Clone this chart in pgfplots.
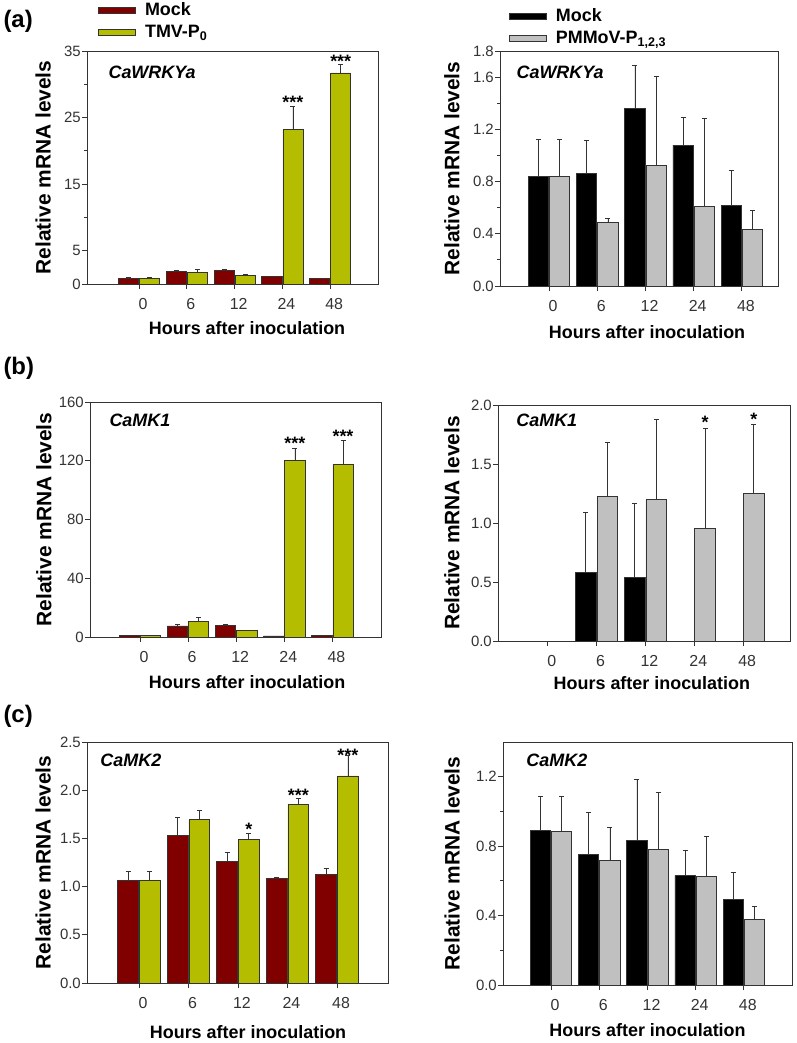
\documentclass[border=0pt]{standalone}
\usepackage{fontspec}
\setmainfont{Liberation Sans}
\usepackage{pgfplots}
\usepackage{pgfplotstable}
\pgfplotsset{compat=1.18}

\definecolor{mockred}{HTML}{800000}
\definecolor{tmvgreen}{HTML}{B5BD00}
\definecolor{pmgray}{HTML}{C0C0C0}
\definecolor{edge}{HTML}{333333}

% columns: x, mock, mock error (upper), infected, infected error (upper)
\pgfplotstableread{
x mock merr inf ierr
0 0.9  0.15 0.9  0.15
1 1.9  0.15 1.8  0.45
2 2.05 0.1  1.35 0.05
3 1.15 0    23.2 3.45
4 0.8  0    31.7 1.3
}\wrkyTMV
\pgfplotstableread{
x mock merr inf ierr
0 0.836 0.284 0.836 0.284
1 0.862 0.256 0.486 0.031
2 1.36  0.328 0.926 0.683
3 1.079 0.213 0.606 0.678
4 0.619 0.268 0.432 0.149
}\wrkyPM
\pgfplotstableread{
x mock merr inf ierr
0 1.0 0    1.0   0
1 7.5 1.1  10.7  2.9
2 7.9 0.95 4.3   0.5
3 0.7 0    120.3 8.4
4 0.9 0    117.3 16.6
}\mkoneTMV
\pgfplotstableread{
x mock merr inf ierr
0 nan   nan   nan   nan
1 0.582 0.508 1.226 0.46
2 0.542 0.625 1.2   0.678
3 nan   nan   0.952 0.85
4 nan   nan   1.251 0.588
}\mkonePM
\pgfplotstableread{
x mock merr inf ierr
0 1.062 0.097 1.062 0.097
1 1.528 0.193 1.693 0.093
2 1.262 0.09  1.486 0.069
3 1.086 0.014 1.852 0.062
4 1.128 0.062 2.148 0.218
}\mktwoTMV
\pgfplotstableread{
x mock merr inf ierr
0 0.889 0.2   0.887 0.202
1 0.753 0.242 0.72  0.19
2 0.835 0.348 0.781 0.331
3 0.632 0.144 0.626 0.23
4 0.495 0.152 0.378 0.075
}\mktwoPM

\pgfplotsset{
  panel/.style={
    scale only axis, anchor=south west,
    ymin=0,
    xtick={0,1,2,3,4}, xticklabels={0,6,12,24,48},
    xtick pos=bottom, ytick pos=left,
    tick align=outside,
    major tick length=5bp, minor tick length=3bp,
    axis line style={edge, line width=0.9bp},
    every tick/.style={edge, line width=0.8bp},
    xticklabel style={font=\fontsize{16}{18}\selectfont, text=edge, xshift=4bp, yshift=-6bp},
    yticklabel style={font=\fontsize{15}{17}\selectfont, text=edge, inner xsep=1bp},
    /pgf/number format/assume math mode=true,
    xlabel={Hours after inoculation},
    ylabel={Relative mRNA levels},
    xlabel style={font=\bfseries\fontsize{18}{21}\selectfont, anchor=center},
    ylabel style={font=\bfseries\fontsize{21}{24}\selectfont, anchor=center},
    legend cell align=left,
    legend style={draw=none, fill=none, anchor=north west,
      font=\bfseries\fontsize{18}{21}\selectfont,
      inner xsep=0pt, inner ysep=0pt, row sep=4bp,
      /tikz/every odd column/.append style={column sep=7bp}},
    legend image code/.code={\draw[#1] (0bp,-3bp) rectangle (37bp,3bp);},
  },
  onedec/.style={/pgf/number format/fixed, /pgf/number format/fixed zerofill,
    /pgf/number format/precision=1},
  mybars/.style={ybar, bar width=0.42, bar shift=0pt, draw=edge, line width=0.8bp,
    error bars/y dir=plus, error bars/y explicit,
    error bars/error bar style={edge, line width=0.8bp},
    error bars/error mark options={edge, line width=0.8bp, mark size=2.5bp, rotate=90}},
}
\tikzset{
  gene/.style={anchor=west, font=\bfseries\itshape\fontsize{18}{21}\selectfont},
  stars/.style={anchor=base, yshift=-10.3bp, inner sep=0pt,
    font=\bfseries\fontsize{18}{21}\selectfont},
}
% bars of a pair sit 0.22 left and right of the group centre
\newcommand{\mockbars}[2]{\addplot[mybars, fill=#1] table[x expr=\thisrow{x}-0.22, y=mock, y error=merr] {#2};}
\newcommand{\infbars}[2]{\addplot[mybars, fill=#1] table[x expr=\thisrow{x}+0.22, y=inf, y error=ierr] {#2};}

\begin{document}
\begin{tikzpicture}
\path[use as bounding box] (0bp,0bp) rectangle (797bp,-1043bp);

\node[anchor=west, font=\bfseries\fontsize{24}{28}\selectfont] at (0bp,-21bp) {(a)};
\node[anchor=west, font=\bfseries\fontsize{24}{28}\selectfont] at (0bp,-368bp) {(b)};
\node[anchor=west, font=\bfseries\fontsize{24}{28}\selectfont] at (0bp,-716bp) {(c)};

% (a) left
\begin{axis}[panel, at={(87bp,-284bp)}, width=291bp, height=233bp,
  xmin=-1.09, xmax=5.0, ymax=35, ytick={0,5,15,25,35},
  minor ytick={10,20,30},
  ylabel style={at={(axis description cs:-0.151,0.5)}},
  xlabel style={at={(axis description cs:0.55,-0.189)}},
  legend style={at={(axis description cs:0.038,1.216)}}]
\mockbars{mockred}{\wrkyTMV}
\infbars{tmvgreen}{\wrkyTMV}
\legend{Mock, TMV-P\textsubscript{0}}
\node[gene] at (rel axis cs:0.062,0.91) {CaWRKYa};
\node[stars] at (axis cs:3.22,27.9) {***};
\node[stars] at (axis cs:4.22,34.05) {***};
\end{axis}

% (a) right
\begin{axis}[panel, onedec, at={(500bp,-286bp)}, width=278bp, height=235bp,
  xmin=-1.02, xmax=4.75, ymax=1.8, ytick={0,0.4,0.8,1.2,1.6,1.8},
  minor ytick={0.2,0.6,1.0,1.4},
  ylabel style={at={(axis description cs:-0.173,0.5)}},
  xlabel style={at={(axis description cs:0.529,-0.196)}},
  legend style={at={(axis description cs:0.032,1.189)}}]
\mockbars{black}{\wrkyPM}
\infbars{pmgray}{\wrkyPM}
\legend{Mock, PMMoV-P\textsubscript{1,2,3}}
\node[gene] at (rel axis cs:0.047,0.91) {CaWRKYa};
\end{axis}

% (b) left
\begin{axis}[panel, at={(90bp,-637bp)}, width=291bp, height=235bp,
  xmin=-1.04, xmax=5.01, ymax=160, ytick={0,40,80,120,160},
  ylabel style={at={(axis description cs:-0.158,0.5)}},
  xlabel style={at={(axis description cs:0.54,-0.19)}}]
\mockbars{mockred}{\mkoneTMV}
\infbars{tmvgreen}{\mkoneTMV}
\node[gene] at (rel axis cs:0.055,0.923) {CaMK1};
\node[stars] at (axis cs:3.22,134.4) {***};
\node[stars] at (axis cs:4.22,139.6) {***};
\end{axis}

% (b) right
\begin{axis}[panel, onedec, at={(498bp,-641bp)}, width=292bp, height=236bp,
  xmin=-1.02, xmax=4.96, ymax=2.0, ytick={0,0.5,1.0,1.5,2.0},
  ylabel style={at={(axis description cs:-0.158,0.5)}},
  xlabel style={at={(axis description cs:0.527,-0.178)}}]
\mockbars{black}{\mkonePM}
\infbars{pmgray}{\mkonePM}
\node[gene] at (rel axis cs:0.051,0.936) {CaMK1};
\node[stars] at (axis cs:3.22,1.887) {*};
\node[stars] at (axis cs:4.22,1.915) {*};
\end{axis}

% (c) left
\begin{axis}[panel, onedec, at={(87bp,-983bp)}, width=301bp, height=241bp,
  xmin=-1.05, xmax=5.03, ymax=2.5, ytick={0,0.5,1.0,1.5,2.0,2.5},
  ylabel style={at={(axis description cs:-0.146,0.5)}},
  xlabel style={at={(axis description cs:0.535,-0.202)}}]
\mockbars{mockred}{\mktwoTMV}
\infbars{tmvgreen}{\mktwoTMV}
\node[gene] at (rel axis cs:0.033,0.925) {CaMK2};
\node[stars] at (axis cs:2.22,1.638) {*};
\node[stars] at (axis cs:3.22,1.99) {***};
\node[stars] at (axis cs:4.22,2.407) {***};
\end{axis}

% (c) right
\begin{axis}[panel, onedec, at={(503bp,-985bp)}, width=289bp, height=243bp,
  xmin=-1.0, xmax=5.0, ymax=1.4, ytick={0,0.4,0.8,1.2},
  minor ytick={0.2,0.6,1.0},
  ylabel style={at={(axis description cs:-0.176,0.5)}},
  xlabel style={at={(axis description cs:0.50,-0.185)}}]
\mockbars{black}{\mktwoPM}
\infbars{pmgray}{\mktwoPM}
\node[gene] at (rel axis cs:0.069,0.926) {CaMK2};
\end{axis}
\end{tikzpicture}
\end{document}
